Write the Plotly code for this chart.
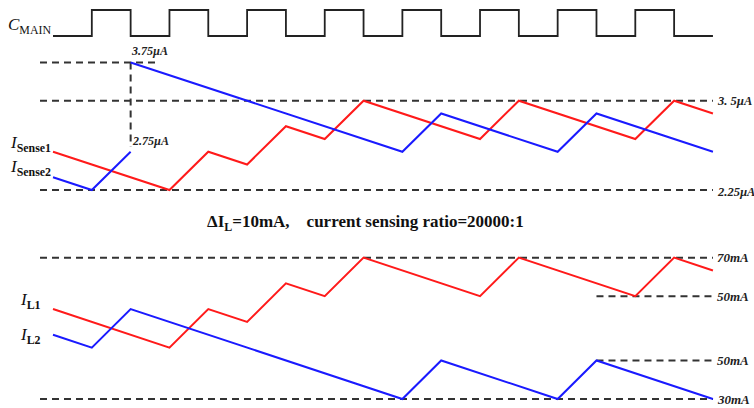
import plotly.graph_objects as go

# ---------------- data (time in clock half-periods, levels in schematic units) ----------------
clock_t = list(range(0, 18))
clock_v = [0, 1, 0, 1, 0, 1, 0, 1, 0, 1, 0, 1, 0, 1, 0, 1, 0, 0]

red_t = [0, 3, 4, 5, 6, 7, 8, 11, 12, 15, 16, 17]
sense1 = [3, 0, 3, 2, 5, 4, 7, 4, 7, 4, 7, 6]
il1 = [7, 4, 7, 6, 9, 8, 11, 8, 11, 8, 11, 10]

sense2_t = [0, 1, 2, None, 2, 9, 10, 13, 14, 17]
sense2 = [1, 0, 3, None, 10, 3, 6, 3, 6, 3]
il2_t = [0, 1, 2, 9, 10, 13, 14, 17]
il2 = [5, 4, 7, 0, 3, 0, 3, 0]

sense_ref_labels = ["3.75µA", "3. 5µA", "2.75µA", "2.25µA"]
sense_ref_levels = [10, 7, 3, 0]
il_ref_labels = ["70mA", "50mA", "50mA", "30mA"]
il_ref_levels = [11, 8, 3, 0]

# ---------------- layout geometry ----------------
W, H = 754, 408
X0, DX = 53.0, 38.82            # pixel of t=0, pixels per half period
CLK0, CLKU = 36.0, 26.0          # clock: pixel of low level, pixels per unit
S0, SU = 190.0, 12.75            # sense panel: pixel of level 0, pixels per unit
L0, LU = 399.0, 12.85            # inductor panel


def yr(p0, u):
    return [(p0 - H) / u, p0 / u]


FONT = "Liberation Serif, Times New Roman, serif"
DASH_C = "#333333"
DASH = "7px,5px"

fig = go.Figure()

# clock
fig.add_trace(go.Scatter(x=clock_t, y=clock_v, mode="lines", line_shape="hv",
                         line=dict(color="#222222", width=1.8), yaxis="y"))

# reference dashed lines (sense panel)
tl = (40 - X0) / DX
s_ext = [(tl, 2.68), (tl, 17), (None, None), (tl, 17)]
for i, (lv, ext) in enumerate(zip(sense_ref_levels, s_ext)):
    if ext[0] is None:
        continue
    fig.add_trace(go.Scatter(x=[ext[0], ext[1]], y=[lv, lv], mode="lines",
                             line=dict(color=DASH_C, width=2, dash=DASH), yaxis="y2"))
# vertical dashed at t=2
fig.add_trace(go.Scatter(x=[2, 2], y=[sense_ref_levels[0], sense_ref_levels[2] + 0.4], mode="lines",
                         line=dict(color=DASH_C, width=2, dash=DASH), yaxis="y2"))

# reference dashed lines (inductor panel)
l_ext = [(tl, 17), (14, 17), (14, 17), (tl, 17)]
for lv, ext in zip(il_ref_levels, l_ext):
    fig.add_trace(go.Scatter(x=[ext[0], ext[1]], y=[lv, lv], mode="lines",
                             line=dict(color=DASH_C, width=2, dash=DASH), yaxis="y3"))

# waveforms
fig.add_trace(go.Scatter(x=red_t, y=sense1, mode="lines", line=dict(color="#ff1a1a", width=2), yaxis="y2"))
fig.add_trace(go.Scatter(x=sense2_t, y=sense2, mode="lines", line=dict(color="#1a1aff", width=2),
                         yaxis="y2", connectgaps=False))
fig.add_trace(go.Scatter(x=red_t, y=il1, mode="lines", line=dict(color="#ff1a1a", width=2), yaxis="y3"))
fig.add_trace(go.Scatter(x=il2_t, y=il2, mode="lines", line=dict(color="#1a1aff", width=2), yaxis="y3"))

ann = []
tx_r = (715 - X0) / DX
# value labels
ann.append(dict(x=2, y=sense_ref_levels[0], yref="y2", text="<b><i>" + sense_ref_labels[0] + "</i></b>",
                xanchor="left", yanchor="bottom", yshift=3, xshift=-2, fs=12))
ann.append(dict(x=2, y=sense_ref_levels[2], yref="y2", text="<b><i>" + sense_ref_labels[2] + "</i></b>",
                xanchor="left", yanchor="middle", yshift=11, xshift=-1, fs=12))
ann.append(dict(x=tx_r, y=sense_ref_levels[1], yref="y2", text="<b><i>" + sense_ref_labels[1] + "</i></b>",
                xanchor="left", yanchor="middle", fs=12.5))
ann.append(dict(x=tx_r, y=sense_ref_levels[3], yref="y2", text="<b><i>" + sense_ref_labels[3] + "</i></b>",
                xanchor="left", yanchor="middle", yshift=-2, fs=12.5))
for lab, lv in zip(il_ref_labels, il_ref_levels):
    ann.append(dict(x=tx_r, y=lv, yref="y3", text="<b><i>" + lab + "</i></b>",
                    xanchor="left", yanchor="middle", fs=13))
for a in ann:
    fs = a.pop("fs")
    a.update(xref="x", showarrow=False, font=dict(family=FONT, size=fs, color="#222222"))

names = [
    ("<i>C</i><sub>MAIN</sub>", 53, 26),
    ("<i>I</i><sub><b>Sense1</b></sub>", 53, 144),
    ("<i>I</i><sub><b>Sense2</b></sub>", 53, 168),
    ("<i>I</i><sub><b>L1</b></sub>", 43, 301),
    ("<i>I</i><sub><b>L2</b></sub>", 43, 336),
]
for txt, px, py in names:
    ann.append(dict(x=px / W, y=1 - py / H, xref="paper", yref="paper", text=txt, showarrow=False,
                    xanchor="right", yanchor="middle",
                    font=dict(family=FONT, size=17, color="#111111")))

ann.append(dict(x=365 / W, y=1 - 223 / H, xref="paper", yref="paper", showarrow=False,
                text="<b>ΔI<sub>L</sub>=10mA,\u00a0\u00a0\u00a0\u00a0current sensing ratio=20000:1</b>",
                xanchor="center", yanchor="middle",
                font=dict(family=FONT, size=17, color="#111111")))

ax_hidden = dict(visible=False, showgrid=False, zeroline=False, fixedrange=True)
fig.update_layout(
    width=W, height=H,
    margin=dict(l=0, r=0, t=0, b=0),
    paper_bgcolor="white", plot_bgcolor="white",
    showlegend=False,
    xaxis=dict(range=[-X0 / DX, (W - X0) / DX], **ax_hidden),
    yaxis=dict(range=yr(CLK0, CLKU), domain=[0, 1], **ax_hidden),
    yaxis2=dict(range=yr(S0, SU), domain=[0, 1], overlaying="y", **ax_hidden),
    yaxis3=dict(range=yr(L0, LU), domain=[0, 1], overlaying="y", **ax_hidden),
    annotations=ann,
)

fig.write_html("out.html", config={"displayModeBar": False},
               post_script="document.body.style.margin='0';document.body.style.overflow='hidden';")
